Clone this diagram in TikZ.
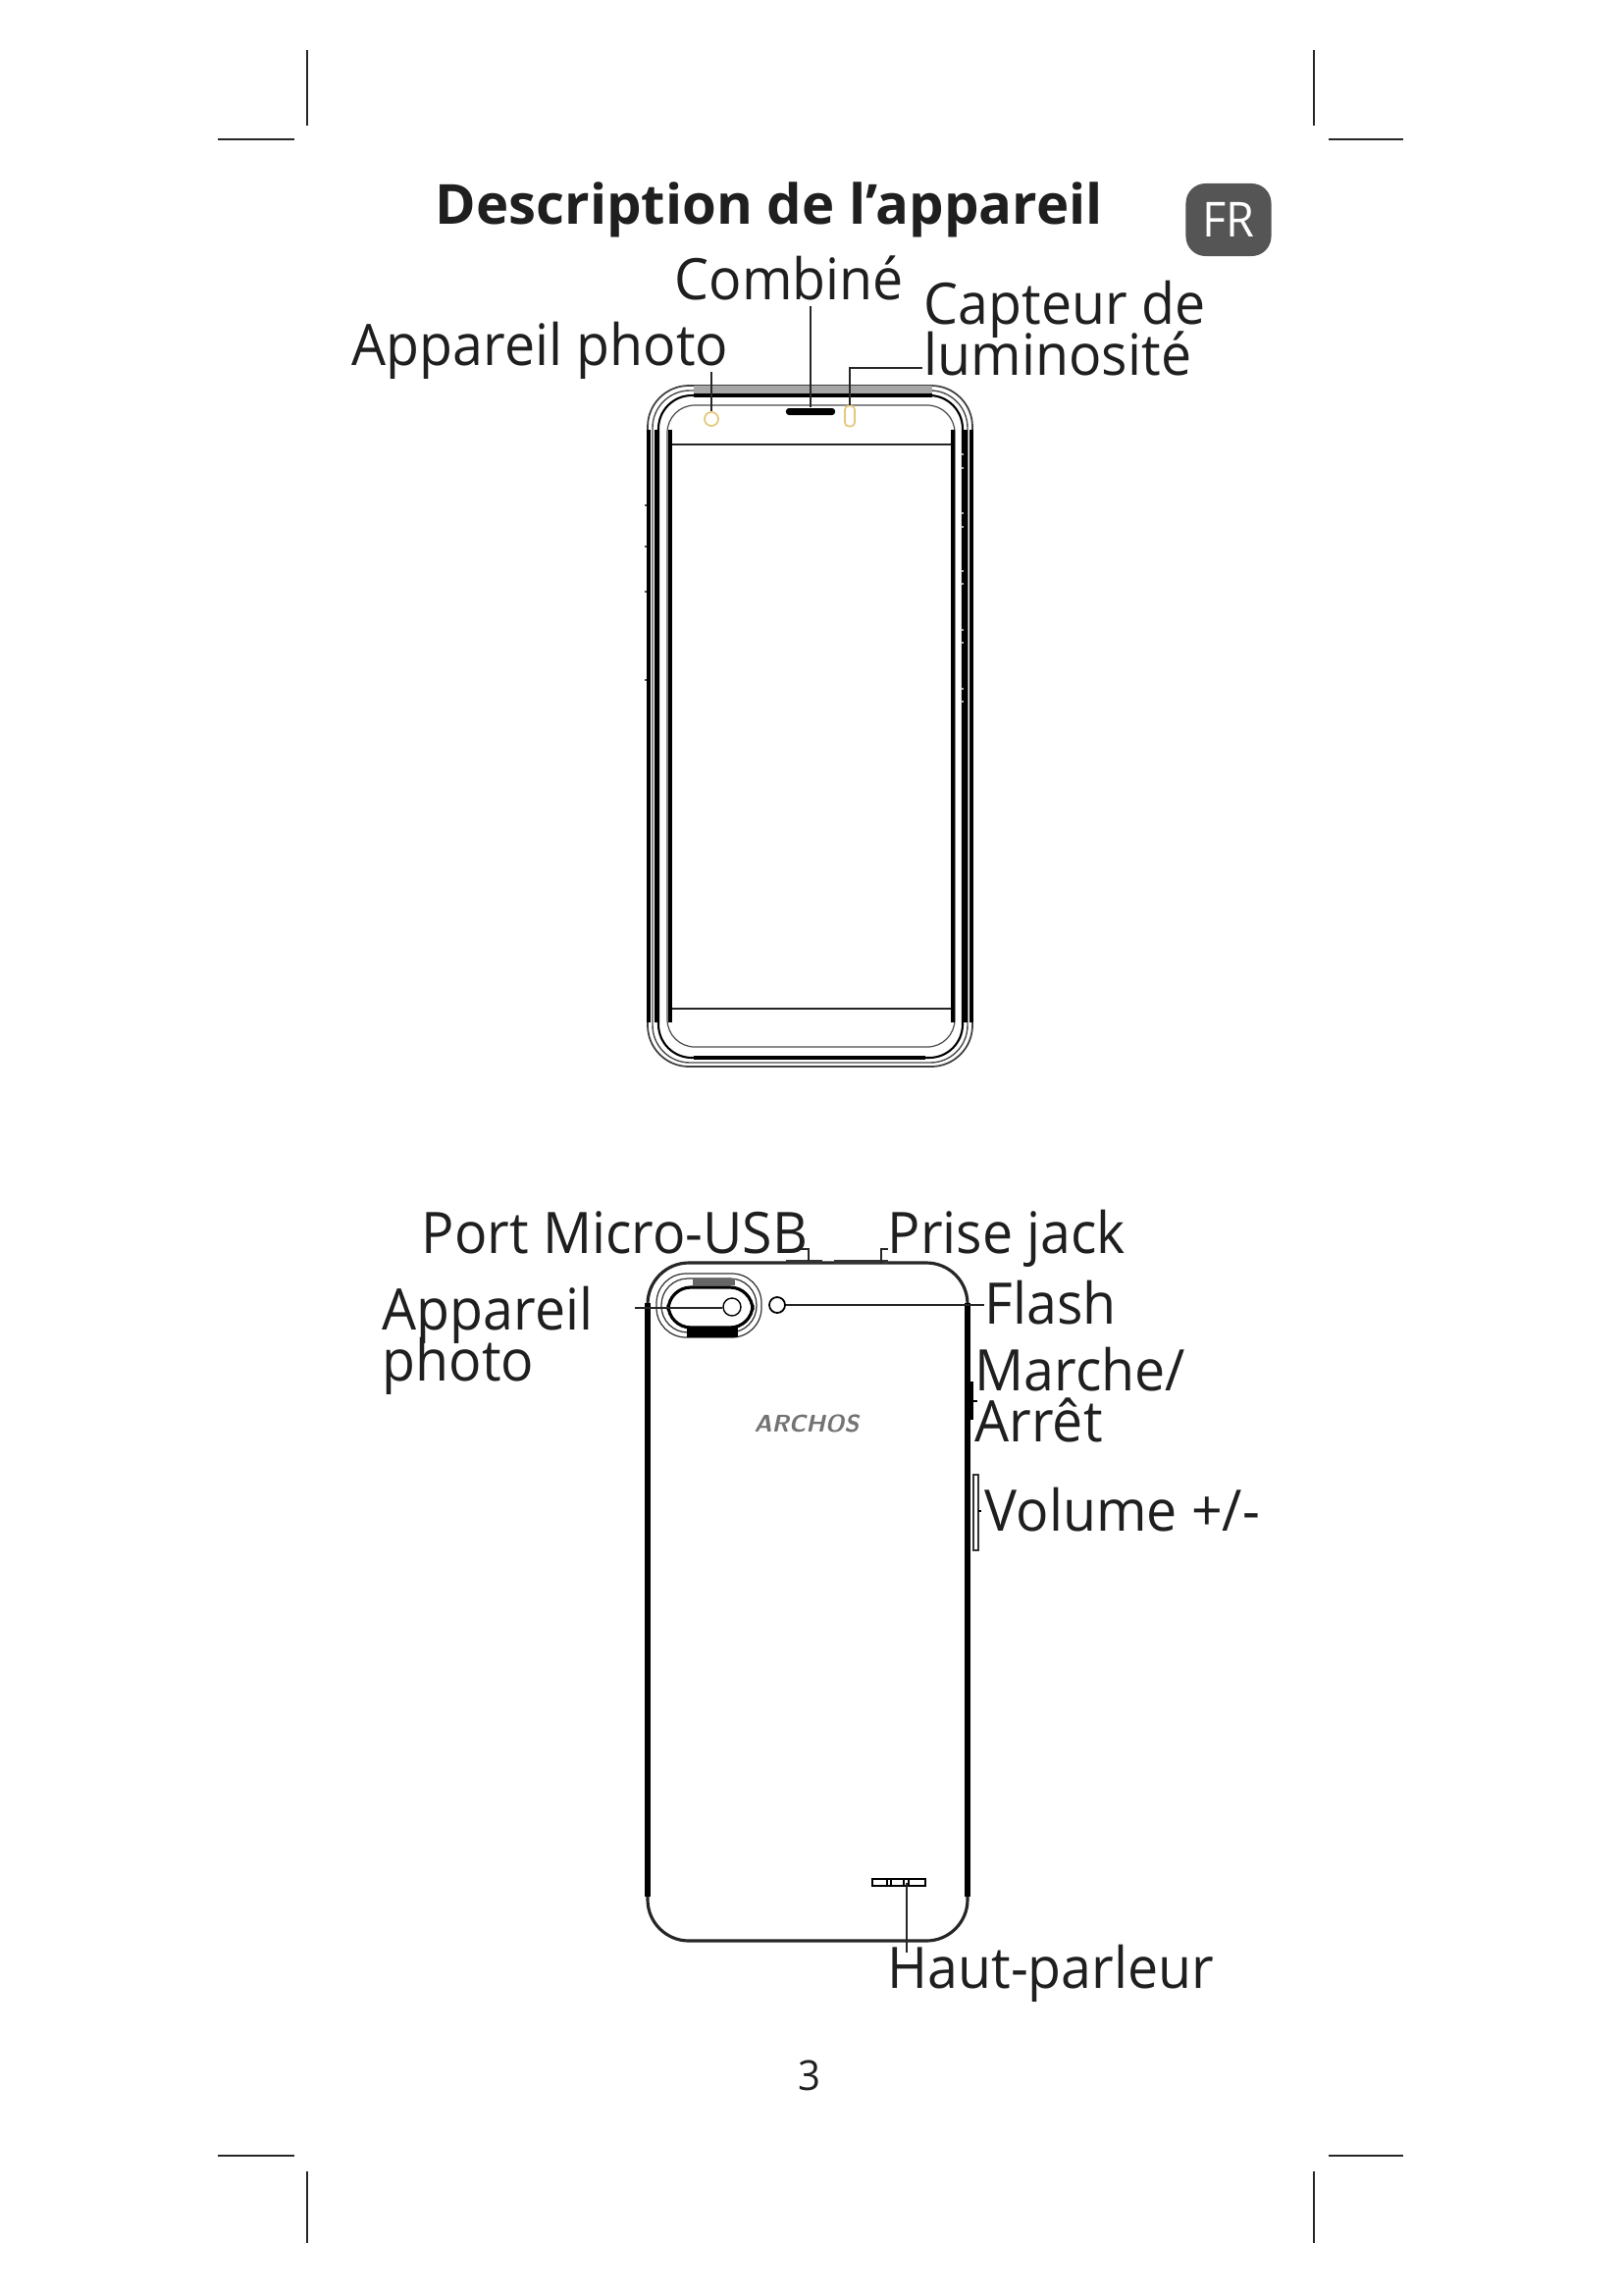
\documentclass[tikz,border=0pt]{standalone}
\usepackage{fontspec}
\setmainfont{Open Sans}[FakeStretch=0.95]
\newfontfamily\titlefont{Open Sans}[FakeStretch=1.0]
\newcommand{\labfont}{\fontsize{16.6}{14.8}\selectfont\lineskiplimit=-100pt\relax}
\definecolor{badgegray}{HTML}{555555}
\definecolor{lensyellow}{HTML}{E6C67A}
\tikzset{
  lab/.style={inner sep=0pt, anchor=base west, text=black!88, font=\labfont},
  leader/.style={line width=0.45pt, black!85},
  crop/.style={line width=0.45pt, black!85},
  sidethick/.style={line width=1.05pt},
}

\begin{document}
\begin{tikzpicture}[x=0.01cm, y=-0.01cm]

\useasboundingbox (0,0) rectangle (1654,2339);

\foreach \xa/\ya/\xb/\yb in {313/51/313/128, 222/142/300/142, 1339/51/1339/128, 1354/142/1430/142,
                             222/2197/300/2197, 313/2213/313/2286, 1354/2197/1430/2197, 1339/2213/1339/2286}
  \draw[crop] (\xa,\ya) -- (\xb,\yb);

\node[lab, font=\fontsize{16}{19}\titlefont\bfseries] (title) at (443,228) {Description de l’appareil};
\node[fill=badgegray, rounded corners=0.2cm, minimum width=0.87cm, minimum height=0.74cm, inner sep=0pt,
      text=white, font=\fontsize{14}{16}\selectfont] (badge) at (1252,224) {FR};

\node[lab] (labcombine) at (687,305) {Combiné};
\node[lab] (labfrontcam) at (358,372) {Appareil photo};
\node[lab, align=left, anchor=north west] (labcapteur) at (941,285) {Capteur de\\luminosité};

\draw[line width=0.5pt, black!75, rounded corners=0.42cm] (660,393) rectangle (991,1087);
\draw[line width=0.4pt, black!70, rounded corners=0.38cm] (665,398) rectangle (986,1083);
\draw[line width=0.6pt, rounded corners=0.34cm] (671,403) rectangle (981,1078);
\draw[line width=0.35pt, black!70, rounded corners=0.28cm] (680,413) rectangle (973,1067);
\draw[line width=0.6pt, black!85] (683,453) rectangle (971,1028);

\foreach \xpos in {661,669,683,971,984,990}
  \draw[sidethick] (\xpos,438) -- (\xpos,1042);
\draw[line width=2pt, black!35] (707,397) -- (950,397);
\draw[line width=0.9pt] (707,403) -- (950,403);
\draw[line width=0.9pt] (707,1078) -- (943,1078);
\foreach \ypos in {515,557,603,693}
  \draw[line width=0.5pt, black!70] (657,\ypos) -- (659,\ypos);
\foreach \ypos in {463,477,523,537,582,595,642,655,702,715}
  \draw[line width=0.4pt, black!30] (980,\ypos) -- (982,\ypos);

\node[draw=lensyellow, line width=0.5pt, circle, minimum size=0.14cm, inner sep=0pt] (frontcam) at (725,427) {};
\node[fill=black, rounded corners=0.03cm, minimum width=0.5cm, minimum height=0.07cm, inner sep=0pt] (earpiece) at (826,419.5) {};
\node[draw=lensyellow, line width=0.5pt, rounded corners=0.04cm, minimum width=0.1cm, minimum height=0.21cm, inner sep=0pt] (sensor) at (866,424) {};
\coordinate (capteurend) at (940,375);

\draw[leader, shorten <=0.07cm] (labcombine.base -| earpiece.north) -- (earpiece.north);
\draw[leader, shorten <=0.07cm] (labfrontcam.base -| frontcam.north) -- (frontcam.north);
\draw[leader] (capteurend) -| (sensor.north);

\node[lab] (labusb) at (429,1277) {Port Micro-USB};
\node[lab] (labjack) at (904,1277) {Prise jack};
\node[lab, align=left, anchor=north west] (labbackcam) at (389,1310) {Appareil\\photo};
\node[lab] (labflash) at (1003,1349) {Flash};
\node[lab, align=left, anchor=north west] (labpower) at (993,1372) {Marche/\\Arrêt};
\node[lab] (labvolume) at (1003,1560) {Volume +/-};
\node[lab] (labspeaker) at (904,2026) {Haut-parleur};
\node[lab, font=\fontsize{12}{14}\selectfont] (pagenum) at (813,2130) {3};

\draw[line width=0.9pt, black!85, rounded corners=0.42cm] (660,1287) rectangle (986,1978);
\foreach \xpos in {660,986}
  \draw[line width=1.6pt] (\xpos,1328) -- (\xpos,1933);
\draw[line width=0.9pt, black!80] (801,1286) -- (838,1286) (850,1286) -- (905,1286);

\draw[line width=0.35pt, black!80, rounded corners=0.3cm] (669,1298) rectangle (776,1363);
\draw[line width=0.35pt, black!80, rounded corners=0.27cm] (674,1303) rectangle (771,1358);
\draw[line width=0.9pt, rounded corners=0.23cm] (681,1312) rectangle (767,1353);
\fill (700,1352) rectangle (752,1363);
\fill[black!60] (706,1303) rectangle (749,1310);

\node[draw, line width=0.4pt, circle, minimum size=0.18cm, inner sep=0pt] (backlens) at (746,1332) {};
\node[draw, line width=0.5pt, circle, minimum size=0.16cm, inner sep=0pt] (flashled) at (792,1330) {};
\node[font=\fontsize{7}{9}\selectfont\sffamily\bfseries\itshape, text=black!55, inner sep=0pt] (logo) at (822,1451) {ARCHOS};

\fill (988,1408) rectangle (992,1447);
\draw[line width=0.5pt, black!80] (992,1503) rectangle (997,1580);
\draw[line width=0.4pt] (992,1428) -- (996,1428) (997,1540) -- (1000,1540);

\node[draw, line width=0.4pt, minimum width=0.54cm, minimum height=0.07cm, inner sep=0pt] (speaker) at (916,1918.5) {};
\foreach \xpos in {904,908,921,926}
  \draw[line width=0.4pt] (\xpos,1915) -- (\xpos,1922);

\coordinate (backcamend) at (647,1333);
\coordinate (usbend) at (816,1273);
\coordinate (jackend) at (905,1273);
\coordinate (speakerend) at (924,1990);

\draw[leader] (backcamend) -- (backcamend -| backlens.west);
\draw[leader] (flashled.east) -- (labflash.west |- flashled.east);
\draw[leader] (usbend) -- (824,1273) -- (824,1285);
\draw[leader] (jackend) -- (898,1273) -- (898,1288);
\draw[leader] (speakerend) -- (speakerend |- speaker.center);

\end{tikzpicture}
\end{document}
